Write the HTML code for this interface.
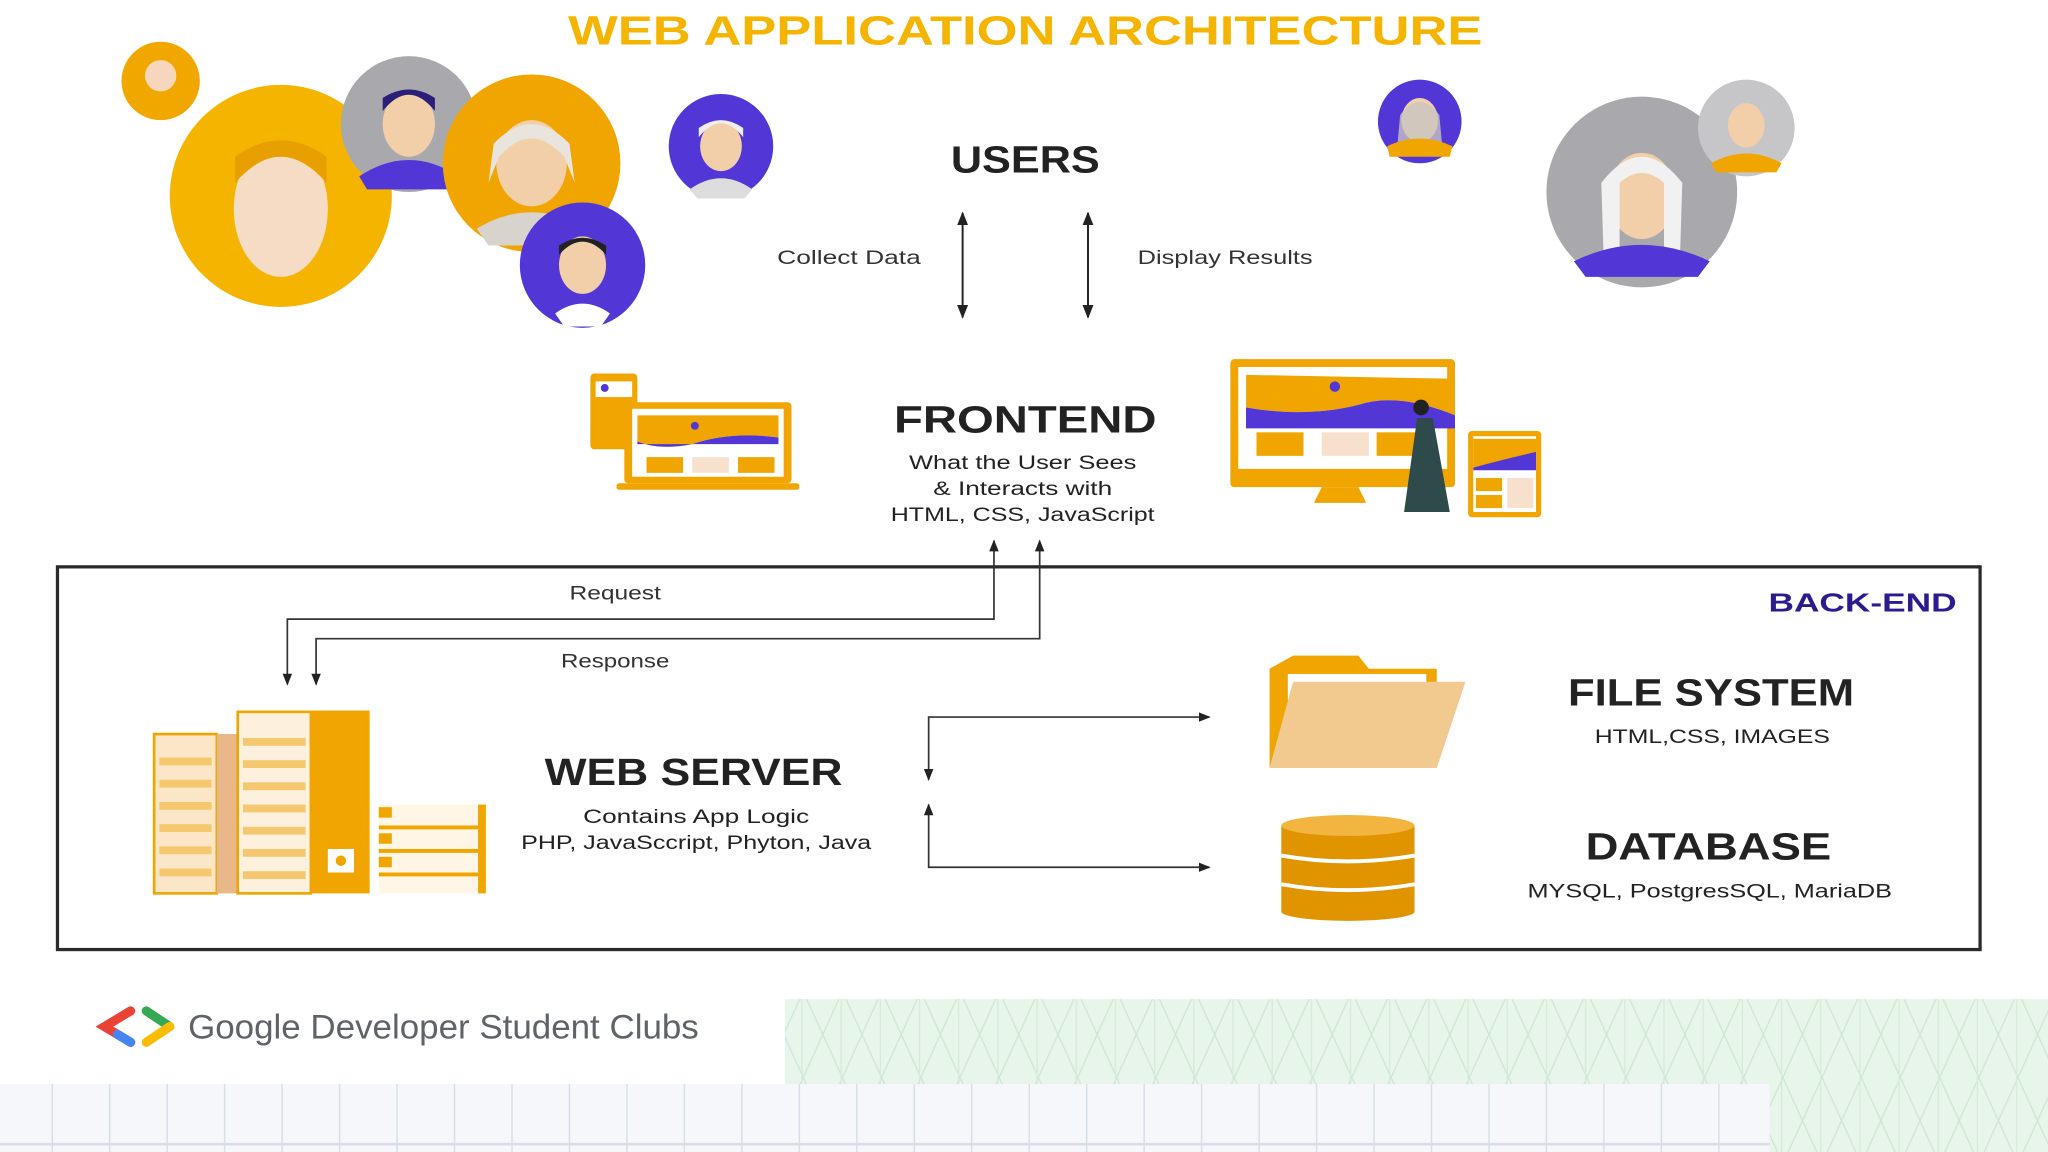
<!DOCTYPE html>
<html><head><meta charset="utf-8"><style>
html,body{margin:0;padding:0;background:#fff;}
svg{display:block;}
text{font-family:"Liberation Sans",sans-serif;}
</style></head><body>
<svg width="2048" height="1152" viewBox="0 0 1568 882" preserveAspectRatio="none" xmlns="http://www.w3.org/2000/svg">
<defs>
<marker id="ah" viewBox="0 0 10 10" refX="9" refY="5" markerWidth="7" markerHeight="7" orient="auto-start-reverse"><path d="M0,1 L10,5 L0,9 z" fill="#222"/></marker>
<pattern id="grid" width="44" height="882" patternUnits="userSpaceOnUse"><line x1="40" y1="0" x2="40" y2="882" stroke="#d3dce8" stroke-width="1"/></pattern>
<pattern id="diag" width="60" height="66" patternUnits="userSpaceOnUse"><path d="M0,0 L30,66 L60,0 M0,66 L30,0 L60,66" stroke="#cfe6d3" stroke-width="1" fill="none"/><line x1="14" y1="0" x2="14" y2="66" stroke="#d6ebd9"/><line x1="44" y1="0" x2="44" y2="66" stroke="#d6ebd9"/></pattern>
</defs>
<rect width="1568" height="882" fill="#fff"/>
<!-- footer backgrounds -->
<rect x="601" y="765" width="967" height="117" fill="#e8f5ea"/>
<rect x="601" y="765" width="967" height="117" fill="url(#diag)"/>
<rect x="0" y="830" width="1355" height="52" fill="#f5f7fa"/>
<rect x="0" y="830" width="1355" height="52" fill="url(#grid)"/>
<line x1="0" y1="876" x2="1355" y2="876" stroke="#d9dee6" stroke-width="2"/>
<!-- title -->
<text x="785" y="34" text-anchor="middle" font-size="31" font-weight="bold" fill="#f4b400" textLength="700" lengthAdjust="spacingAndGlyphs">WEB APPLICATION ARCHITECTURE</text>
<!-- avatars -->
<circle cx="123" cy="62" r="30" fill="#f0a800"/><circle cx="123" cy="58" r="12" fill="#f6d7bd"/>
<circle cx="215" cy="150" r="85" fill="#f5b400"/><ellipse cx="215" cy="160" rx="36" ry="52" fill="#f6dcc4"/><path d="M180,140 Q215,100 250,140 L250,120 Q215,95 180,120z" fill="#e89f00"/>
<circle cx="313" cy="95" r="52" fill="#a9a9ad"/><ellipse cx="313" cy="95" rx="20" ry="25" fill="#f3cfa9"/><path d="M293,85 Q313,60 333,85 L333,75 Q313,62 293,75z" fill="#2b1f7a"/><path d="M275,135 Q313,110 351,135 L345,145 L281,145z" fill="#5236d6"/>
<circle cx="407" cy="125" r="68" fill="#f0a500"/><ellipse cx="407" cy="125" rx="27" ry="33" fill="#f3cfa9"/><path d="M378,110 Q407,80 436,110 L440,140 L432,120 Q407,92 382,120 L374,140z" fill="#e9e4de"/><path d="M365,175 Q407,150 449,175 L440,188 L374,188z" fill="#d9d3ce"/>
<circle cx="552" cy="112" r="40" fill="#5236d6"/><ellipse cx="552" cy="112" rx="16" ry="19" fill="#f3cfa9"/><path d="M535,105 Q552,84 569,105 L569,98 Q552,86 535,98z" fill="#eee"/><path d="M528,145 Q552,128 576,145 L570,152 L534,152z" fill="#ddd"/>
<circle cx="446" cy="203" r="48" fill="#5236d6"/><ellipse cx="446" cy="203" rx="18" ry="22" fill="#f3cfa9"/><path d="M428,195 Q446,175 464,195 L464,188 Q446,176 428,188z" fill="#222"/><path d="M425,240 Q446,225 467,240 L460,250 L432,250z" fill="#fff"/>
<circle cx="1087" cy="93" r="32" fill="#5236d6"/><ellipse cx="1087" cy="92" rx="14" ry="17" fill="#f3cfa9"/><path d="M1072,88 Q1087,68 1102,88 L1104,110 L1070,110z" fill="#c9c4c0" opacity="0.8"/><path d="M1062,112 Q1087,100 1112,112 L1110,120 L1064,120z" fill="#f0a500"/>
<circle cx="1257" cy="147" r="73" fill="#a9a9ad"/><ellipse cx="1257" cy="150" rx="26" ry="33" fill="#f3cfa9"/><path d="M1226,140 Q1257,100 1288,140 L1286,205 L1274,205 L1274,140 Q1257,125 1240,140 L1240,205 L1228,205z" fill="#f1f1f1"/><path d="M1205,200 Q1257,175 1309,200 L1300,212 L1214,212z" fill="#5236d6"/>
<circle cx="1337" cy="98" r="37" fill="#c6c6c8"/><ellipse cx="1337" cy="96" rx="14" ry="17" fill="#f3cfa9"/><path d="M1310,125 Q1337,110 1364,125 L1360,132 L1314,132z" fill="#f0a500"/>
<!-- users -->
<text x="785" y="132" text-anchor="middle" font-size="29" font-weight="bold" fill="#222" textLength="114" lengthAdjust="spacingAndGlyphs">USERS</text>
<line x1="737" y1="163" x2="737" y2="243" stroke="#222" stroke-width="1.5" marker-start="url(#ah)" marker-end="url(#ah)"/>
<line x1="833" y1="163" x2="833" y2="243" stroke="#222" stroke-width="1.5" marker-start="url(#ah)" marker-end="url(#ah)"/>
<text x="650" y="202" text-anchor="middle" font-size="15" fill="#333" textLength="110" lengthAdjust="spacingAndGlyphs">Collect Data</text>
<text x="938" y="202" text-anchor="middle" font-size="15" fill="#333" textLength="134" lengthAdjust="spacingAndGlyphs">Display Results</text>
<!-- frontend illustrations -->
<rect x="452" y="286" width="36" height="58" rx="3" fill="#f0a500"/><rect x="456" y="292" width="28" height="12" fill="#fff"/><circle cx="463" cy="297" r="3" fill="#5236d6"/>
<rect x="478" y="308" width="128" height="62" rx="3" fill="#f0a500"/><rect x="484" y="313" width="116" height="52" fill="#fff"/><path d="M488,318 L596,318 L596,335 Q560,330 530,340 Q505,345 488,338z" fill="#f0a500"/><path d="M488,338 Q505,345 530,340 Q560,330 596,335 L596,340 L488,340z" fill="#5236d6"/><circle cx="532" cy="326" r="3" fill="#5236d6"/><rect x="495" y="350" width="28" height="12" fill="#f0a500"/><rect x="530" y="350" width="28" height="12" fill="#f7e0cc"/><rect x="565" y="350" width="28" height="12" fill="#f0a500"/><rect x="472" y="370" width="140" height="5" rx="2" fill="#f0a500"/>
<rect x="942" y="275" width="172" height="98" rx="3" fill="#f0a500"/><rect x="948" y="281" width="160" height="78" fill="#fff"/><path d="M954,287 L1114,290 L1114,318 Q1070,300 1040,310 Q1000,320 954,312z" fill="#f0a500"/><path d="M954,312 Q1000,320 1040,310 Q1070,300 1114,318 L1114,328 L954,328z" fill="#5236d6"/><circle cx="1022" cy="296" r="4" fill="#5236d6"/><rect x="962" y="331" width="36" height="18" fill="#f0a500"/><rect x="1012" y="331" width="36" height="18" fill="#f7e0cc"/><rect x="1054" y="331" width="36" height="18" fill="#f0a500"/><path d="M1012,373 L1040,373 L1046,385 L1006,385z" fill="#f0a500"/>
<path d="M1085,320 L1097,320 L1110,392 L1075,392z" fill="#2f4a4a"/><circle cx="1088" cy="312" r="6" fill="#222"/>
<rect x="1124" y="330" width="56" height="66" rx="3" fill="#f0a500"/><rect x="1128" y="334" width="48" height="58" fill="#fff"/><path d="M1128,336 L1176,336 L1176,346 Q1160,352 1150,358 L1128,358z" fill="#f0a500"/><path d="M1128,358 Q1150,352 1176,346 L1176,360 L1128,360z" fill="#5236d6"/><rect x="1130" y="366" width="20" height="10" fill="#f0a500"/><rect x="1130" y="379" width="20" height="10" fill="#f0a500"/><rect x="1154" y="366" width="20" height="23" fill="#f7e0cc"/>
<text x="785" y="331" text-anchor="middle" font-size="29" font-weight="bold" fill="#222" textLength="201" lengthAdjust="spacingAndGlyphs">FRONTEND</text>
<text x="783" y="359" text-anchor="middle" font-size="14.5" fill="#222" textLength="174" lengthAdjust="spacingAndGlyphs">What the User Sees</text>
<text x="783" y="379" text-anchor="middle" font-size="14.5" fill="#222" textLength="137" lengthAdjust="spacingAndGlyphs">&amp; Interacts with</text>
<text x="783" y="399" text-anchor="middle" font-size="14.5" fill="#222" textLength="202" lengthAdjust="spacingAndGlyphs">HTML, CSS, JavaScript</text>
<!-- back-end box -->
<rect x="44" y="434" width="1472" height="293" fill="none" stroke="#2a2a2a" stroke-width="2.5"/>
<text x="1498" y="468" text-anchor="end" font-size="20" font-weight="bold" fill="#2b1b8f" textLength="144" lengthAdjust="spacingAndGlyphs">BACK-END</text>
<!-- request/response -->
<polyline points="761,414 761,474 220,474 220,524" fill="none" stroke="#333" stroke-width="1.3" marker-start="url(#ah)" marker-end="url(#ah)"/>
<polyline points="796,414 796,489 242,489 242,524" fill="none" stroke="#333" stroke-width="1.3" marker-start="url(#ah)" marker-end="url(#ah)"/>
<text x="471" y="459" text-anchor="middle" font-size="14.5" fill="#333" textLength="70" lengthAdjust="spacingAndGlyphs">Request</text>
<text x="471" y="511" text-anchor="middle" font-size="14.5" fill="#333" textLength="83" lengthAdjust="spacingAndGlyphs">Response</text>
<!-- server icon -->
<rect x="118" y="562" width="48" height="122" fill="#fbe6c8" stroke="#f0a500" stroke-width="2"/>
<rect x="166" y="562" width="16" height="122" fill="#e8b88a"/>
<rect x="182" y="545" width="56" height="139" fill="#fdf0dc" stroke="#f0a500" stroke-width="2"/>
<rect x="238" y="544" width="45" height="140" fill="#f0a500"/>
<rect x="251" y="650" width="20" height="18" fill="#fff"/><circle cx="261" cy="659" r="4" fill="#f0a500"/>
<g fill="#f5c870">
<rect x="122" y="580" width="40" height="6"/><rect x="122" y="597" width="40" height="6"/><rect x="122" y="614" width="40" height="6"/><rect x="122" y="631" width="40" height="6"/><rect x="122" y="648" width="40" height="6"/><rect x="122" y="665" width="40" height="6"/>
<rect x="186" y="565" width="48" height="6"/><rect x="186" y="582" width="48" height="6"/><rect x="186" y="599" width="48" height="6"/><rect x="186" y="616" width="48" height="6"/><rect x="186" y="633" width="48" height="6"/><rect x="186" y="650" width="48" height="6"/><rect x="186" y="667" width="48" height="6"/>
</g>
<rect x="290" y="616" width="82" height="68" fill="#fff6e6"/>
<g fill="#f0a500"><rect x="366" y="616" width="6" height="68"/><rect x="290" y="632" width="76" height="3"/><rect x="290" y="650" width="76" height="3"/><rect x="290" y="668" width="76" height="3"/><rect x="290" y="618" width="10" height="8"/><rect x="290" y="638" width="10" height="8"/><rect x="290" y="656" width="10" height="8"/></g>
<text x="531" y="601" text-anchor="middle" font-size="29" font-weight="bold" fill="#222" textLength="228" lengthAdjust="spacingAndGlyphs">WEB SERVER</text>
<text x="533" y="630" text-anchor="middle" font-size="14.5" fill="#222" textLength="173" lengthAdjust="spacingAndGlyphs">Contains App Logic</text>
<text x="533" y="650" text-anchor="middle" font-size="14.5" fill="#222" textLength="268" lengthAdjust="spacingAndGlyphs">PHP, JavaSccript, Phyton, Java</text>
<!-- connectors -->
<polyline points="711,597 711,549 926,549" fill="none" stroke="#333" stroke-width="1.3" marker-start="url(#ah)" marker-end="url(#ah)"/>
<polyline points="711,616 711,664 926,664" fill="none" stroke="#333" stroke-width="1.3" marker-start="url(#ah)" marker-end="url(#ah)"/>
<!-- folder -->
<path d="M972,512 L990,502 L1040,502 L1048,512 L1100,512 L1100,588 L972,588z" fill="#f0a500"/>
<rect x="986" y="516" width="106" height="20" fill="#fff"/>
<path d="M990,522 L1122,522 L1100,588 L972,588z" fill="#f2c98f"/>
<text x="1310" y="540" text-anchor="middle" font-size="29" font-weight="bold" fill="#222" textLength="219" lengthAdjust="spacingAndGlyphs">FILE SYSTEM</text>
<text x="1311" y="569" text-anchor="middle" font-size="14.5" fill="#222" textLength="180" lengthAdjust="spacingAndGlyphs">HTML,CSS, IMAGES</text>
<!-- database -->
<rect x="981" y="632" width="102" height="66" fill="#e09400"/>
<ellipse cx="1032" cy="698" rx="51" ry="7" fill="#e09400"/>
<ellipse cx="1032" cy="632" rx="51" ry="8" fill="#f2b540"/>
<path d="M981,655 Q1032,664 1083,655" stroke="#fff" stroke-width="3" fill="none"/>
<path d="M981,677 Q1032,686 1083,677" stroke="#fff" stroke-width="3" fill="none"/>
<text x="1308" y="658" text-anchor="middle" font-size="29" font-weight="bold" fill="#222" textLength="188" lengthAdjust="spacingAndGlyphs">DATABASE</text>
<text x="1309" y="687" text-anchor="middle" font-size="14.5" fill="#222" textLength="279" lengthAdjust="spacingAndGlyphs">MYSQL, PostgresSQL, MariaDB</text>
<!-- GDSC logo -->
<path d="M100,774 L80,786 L100,798" stroke="#ea4335" stroke-width="7" fill="none" stroke-linecap="round"/>
<path d="M90,792 L100,798" stroke="#4285f4" stroke-width="7" stroke-linecap="round"/>
<path d="M112,774 L130,786" stroke="#34a853" stroke-width="7" stroke-linecap="round"/>
<path d="M130,786 L112,798" stroke="#fbbc04" stroke-width="7" stroke-linecap="round"/>
<text x="144" y="795" font-size="26" fill="#5f6368" textLength="391" lengthAdjust="spacingAndGlyphs">Google Developer Student Clubs</text>
</svg>
</body></html>
